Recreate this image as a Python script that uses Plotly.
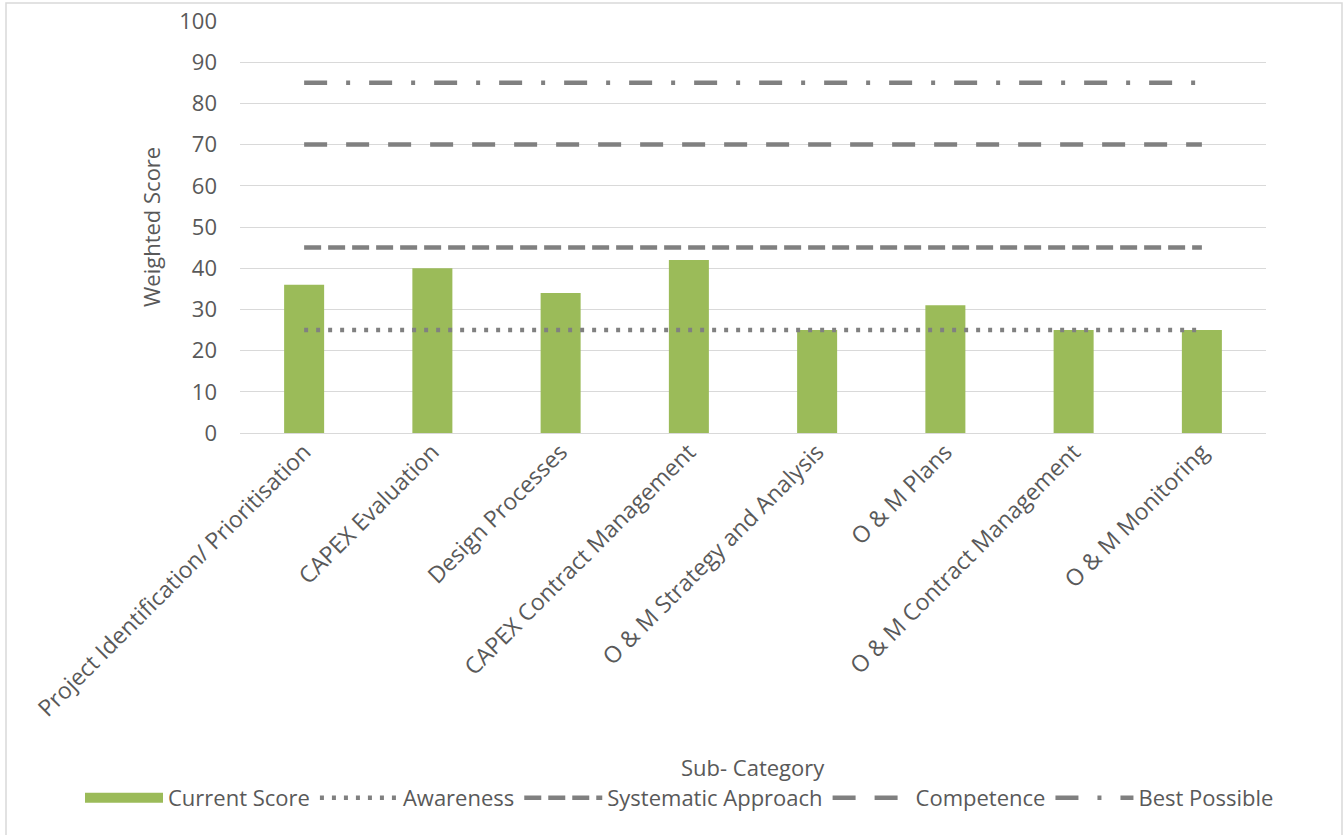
import plotly.graph_objects as go

categories = [
    "Project Identification/ Prioritisation",
    "CAPEX Evaluation",
    "Design Processes",
    "CAPEX Contract Management",
    "O & M Strategy and Analysis",
    "O & M Plans",
    "O & M Contract Management",
    "O & M Monitoring",
]
current_score = [36, 40, 34, 42, 25, 31, 25, 25]
awareness = [25] * 8
systematic = [45] * 8
competence = [70] * 8
best_possible = [85] * 8

FONT = "Open Sans"
FS = 22
TXT = "#595959"
GRAY = "#808080"
GRID = "#d9d9d9"
GREEN = "#9BBB59"

fig = go.Figure()
fig.add_trace(go.Bar(x=categories, y=current_score, name="Current Score", showlegend=False,
                     marker=dict(color=GREEN, line=dict(width=0))))
# legend entry for the bars, drawn as a wide green block like the reference
fig.add_trace(go.Scatter(x=[None], y=[None], name="Current Score", mode="lines",
                         line=dict(color=GREEN, width=16)))
fig.add_trace(go.Scatter(x=categories, y=awareness, name="Awareness", mode="lines",
                         line=dict(color=GRAY, width=4.5, dash="4px,8px")))
fig.add_trace(go.Scatter(x=categories, y=systematic, name="Systematic Approach", mode="lines",
                         line=dict(color=GRAY, width=4.5, dash="17px,7px")))
fig.add_trace(go.Scatter(x=categories, y=competence, name="Competence", mode="lines",
                         line=dict(color=GRAY, width=4.5, dash="23px,19px")))
fig.add_trace(go.Scatter(x=categories, y=best_possible, name="Best Possible", mode="lines",
                         line=dict(color=GRAY, width=4.5, dash="23px,19px,4px,19px")))

L, R, T, B = 240, 78, 21, 402
W, H = 1344, 835
pw, ph = W - L - R, H - T - B

def px_x(x):
    return (x - L) / pw

def px_y(y):
    return (H - B - y) / ph

fig.update_layout(
    width=W, height=H,
    margin=dict(l=L, r=R, t=T, b=B, autoexpand=False),
    paper_bgcolor="white", plot_bgcolor="white",
    font=dict(family=FONT, size=FS, color=TXT),
    bargap=0.688,
    showlegend=True,
    legend=dict(orientation="h", xanchor="left", yanchor="middle",
                x=px_x(80), y=px_y(798), font=dict(size=FS, color=TXT),
                bgcolor="rgba(0,0,0,0)", traceorder="normal", itemwidth=78),
    xaxis=dict(tickangle=-45, showgrid=False, showline=False, ticks="",
               tickfont=dict(size=23, color=TXT), automargin=False),
    yaxis=dict(range=[0, 100], dtick=10, showgrid=True, gridcolor=GRID, gridwidth=1.3,
               zeroline=True, zerolinecolor=GRID, zerolinewidth=1.3,
               showline=False, ticks="", ticklabelstandoff=22,
               tickfont=dict(size=FS, color=TXT), automargin=False),
    annotations=[
        dict(text="Weighted Score", xref="paper", yref="paper", x=px_x(151), y=px_y(227),
             showarrow=False, textangle=-90, font=dict(size=FS, color=TXT),
             xanchor="center", yanchor="middle"),
        dict(text="Sub- Category", xref="paper", yref="paper", x=0.5, y=px_y(767),
             showarrow=False, font=dict(size=FS, color=TXT),
             xanchor="center", yanchor="middle"),
    ],
    shapes=[
        dict(type="rect", xref="paper", yref="paper",
             x0=px_x(6), x1=px_x(1342), y0=px_y(836), y1=px_y(3),
             line=dict(color=GRID, width=1.5), fillcolor="rgba(0,0,0,0)", layer="below"),
    ],
)

fig.write_html("out.html")
